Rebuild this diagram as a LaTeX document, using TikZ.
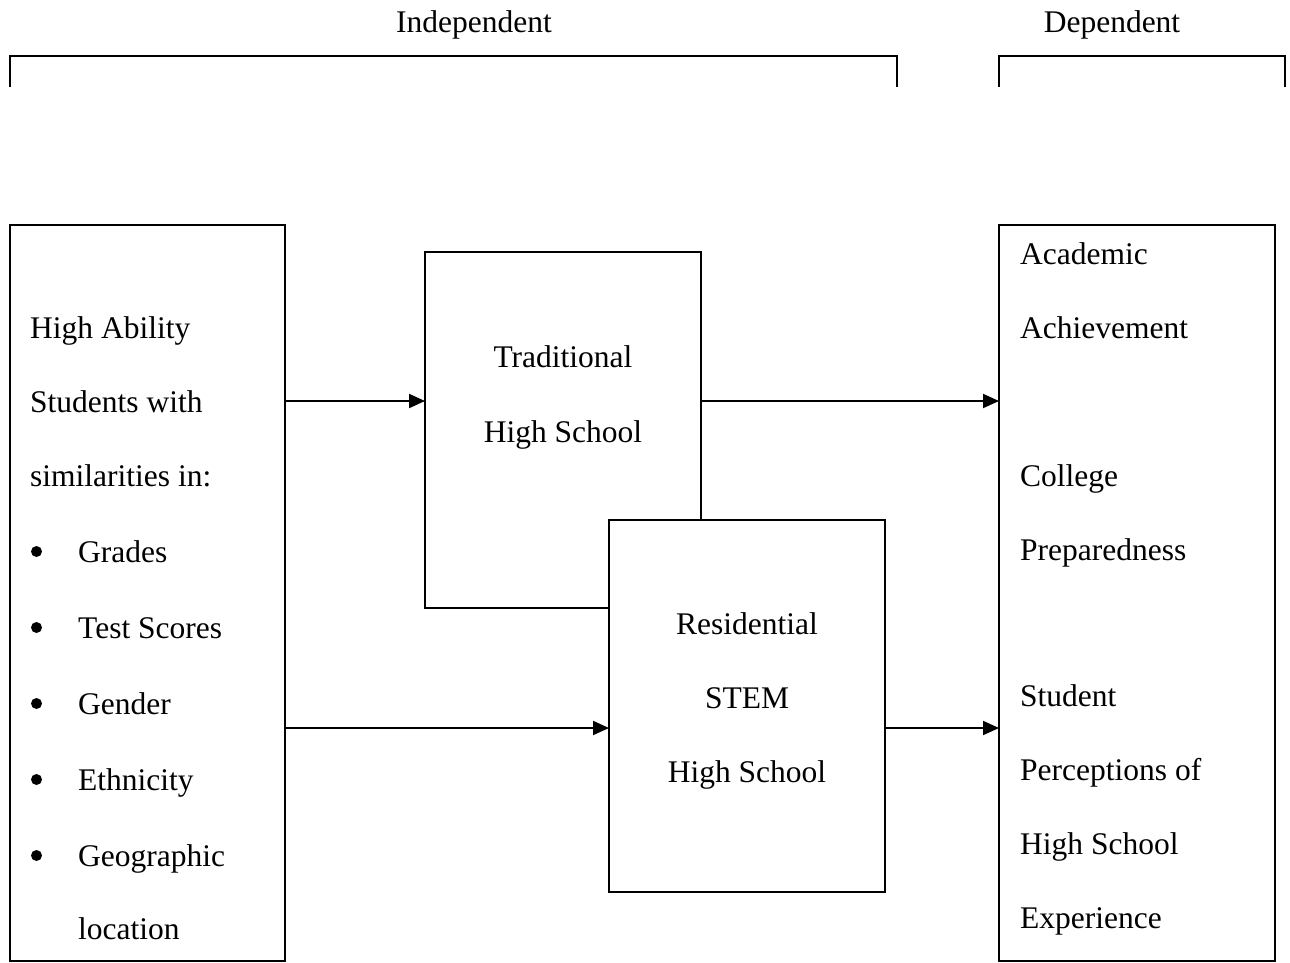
\documentclass[tikz,border=0pt]{standalone}
\usepackage{fontspec}
\setmainfont{Liberation Serif}
\usetikzlibrary{arrows.meta}
\begin{document}
\begin{tikzpicture}[x=1pt,y=-1pt,
  box/.style={draw,line width=2pt,fill=white,outer sep=0pt,inner sep=0pt},
  txt/.style={font=\fontsize{31.5}{37}\selectfont,inner sep=0pt},
  ltxt/.style={txt,anchor=base west},
  ctxt/.style={txt,anchor=base},
  dot/.style={circle,fill=black,inner sep=0pt,minimum size=11pt},
  arr/.style={line width=2pt,-{Triangle[length=16pt,width=14pt]}},
  brk/.style={line width=2pt}]
\useasboundingbox (0,0) rectangle (1290,962);
% headers
\node[ctxt] (indep) at (474,32) {Independent};
\node[ctxt] (dep) at (1112,32) {Dependent};
\draw[brk] (10,87) -- (10,56) -- (897,56) -- (897,87);
\draw[brk] (999,87) -- (999,56) -- (1285,56) -- (1285,87);
% boxes
\node[box,minimum width=275pt,minimum height=736pt] (left) at (147.5,593) {};
\node[box,minimum width=276pt,minimum height=356pt] (trad) at (563,430) {};
\node[box,minimum width=276pt,minimum height=372pt] (res) at (747,706) {};
\node[box,minimum width=276pt,minimum height=736pt] (right) at (1137,593) {};
% rows
\coordinate (r1) at (0,401);
\coordinate (r2) at (0,728);
\draw[arr] (left.east |- r1) -- (trad.west |- r1);
\draw[arr] (trad.east |- r1) -- (right.west |- r1);
\draw[arr] (left.east |- r2) -- (res.west |- r2);
\draw[arr] (res.east |- r2) -- (right.west |- r2);
% left box text
\node[ltxt] (l1) at (30,338) {High Ability};
\node[ltxt] (l2) at (30,412) {Students with};
\node[ltxt] (l3) at (30,486) {similarities in:};
\node[ltxt] (l4) at (78,562) {Grades};
\node[ltxt] (l5) at (78,638) {Test Scores};
\node[ltxt] (l6) at (78,714) {Gender};
\node[ltxt] (l7) at (78,790) {Ethnicity};
\node[ltxt] (l8) at (78,866) {Geographic};
\node[ltxt] (l9) at (78,939) {location};
\node[dot] (b4) at (36.5,551.5) {};
\node[dot] (b5) at (36.5,627.5) {};
\node[dot] (b6) at (36.5,703.5) {};
\node[dot] (b7) at (36.5,779.5) {};
\node[dot] (b8) at (36.5,855.5) {};
% traditional
\node[ctxt] (t1) at (563,367) {Traditional};
\node[ctxt] (t2) at (563,442) {High School};
% residential
\node[ctxt] (s1) at (747,634) {Residential};
\node[ctxt] (s2) at (747,708) {STEM};
\node[ctxt] (s3) at (747,782) {High School};
% right box text
\node[ltxt] (d1) at (1020,264) {Academic};
\node[ltxt] (d2) at (1020,338) {Achievement};
\node[ltxt] (d3) at (1020,486) {College};
\node[ltxt] (d4) at (1020,560) {Preparedness};
\node[ltxt] (d5) at (1020,706) {Student};
\node[ltxt] (d6) at (1020,780) {Perceptions of};
\node[ltxt] (d7) at (1020,854) {High School};
\node[ltxt] (d8) at (1020,928) {Experience};
\end{tikzpicture}
\end{document}
